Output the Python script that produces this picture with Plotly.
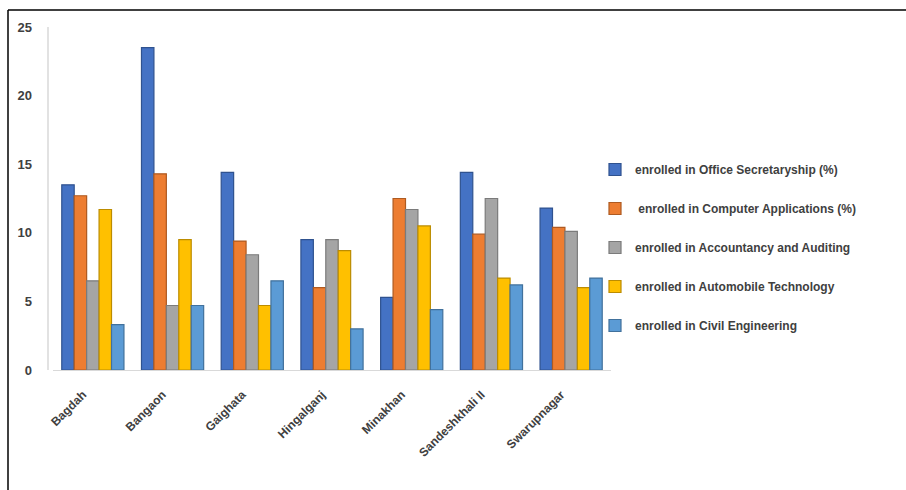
import plotly.graph_objects as go

blocks = ["Bagdah", "Bangaon", "Gaighata", "Hingalganj", "Minakhan", "Sandeshkhali II", "Swarupnagar"]

office_secretaryship = [13.5, 23.5, 14.4, 9.5, 5.3, 14.4, 11.8]
computer_applications = [12.7, 14.3, 9.4, 6.0, 12.5, 9.9, 10.4]
accountancy_auditing = [6.5, 4.7, 8.4, 9.5, 11.7, 12.5, 10.1]
automobile_technology = [11.7, 9.5, 4.7, 8.7, 10.5, 6.7, 6.0]
civil_engineering = [3.3, 4.7, 6.5, 3.0, 4.4, 6.2, 6.7]

series_names = [
    "enrolled in Office Secretaryship (%)",
    " enrolled in Computer Applications (%)",
    "enrolled in Accountancy and Auditing",
    "enrolled in Automobile Technology",
    "enrolled in Civil Engineering",
]
series_values = [office_secretaryship, computer_applications, accountancy_auditing,
                 automobile_technology, civil_engineering]
fill_colors = ["#4472C4", "#ED7D31", "#A5A5A5", "#FFC000", "#5B9BD5"]
edge_colors = ["#2F528F", "#AE5A21", "#7B7B7B", "#BC8C00", "#41719C"]

fig = go.Figure()
for i, (name, vals) in enumerate(zip(series_names, series_values)):
    fig.add_trace(go.Bar(
        x=blocks, y=vals, name=name,
        legendgroup=f"g{i}",
        marker=dict(color=fill_colors[i], line=dict(color=edge_colors[i], width=1.2)),
    ))

# plot-area geometry in pixels (used for items placed in paper coords)
W, H = 906, 490
ml, mr, mt, mb = 53, 295, 27, 120
pw, ph = W - ml - mr, H - mt - mb

def px_x(x):
    return (x - ml) / pw

def px_y(y):
    return (H - mb - y) / ph

fig.update_layout(
    width=W, height=H,
    margin=dict(l=ml, r=mr, t=mt, b=mb),
    plot_bgcolor="white", paper_bgcolor="white",
    barmode="group", bargap=0.22, bargroupgap=0.0,
    font=dict(family="Liberation Sans, Arial, sans-serif", color="#404040"),
    legend=dict(
        x=px_x(595), y=px_y(155), xanchor="left", yanchor="top",
        font=dict(size=12, color="#404040", weight="bold"),
        tracegroupgap=20, itemwidth=30, bgcolor="rgba(0,0,0,0)",
    ),
    xaxis=dict(
        tickangle=-45, showline=True, linecolor="#D9D9D9", linewidth=1,
        tickfont=dict(size=12, color="#404040", weight="bold"),
        showgrid=False, ticks="", ticklabelstandoff=12, ticklabelshift=-10,
    ),
    yaxis=dict(
        range=[0, 25], tickvals=[0, 5, 10, 15, 20, 25],
        showline=False, showgrid=False, zeroline=False, ticks="",
        ticklabelstandoff=20,
        tickfont=dict(size=13, color="#404040", weight="bold"),
    ),
    shapes=[
        # value axis line
        dict(type="line", xref="paper", yref="paper",
             x0=px_x(48), x1=px_x(48), y0=0, y1=1,
             line=dict(color="#D9D9D9", width=1.5)),
        # frame edges
        dict(type="line", xref="paper", yref="paper",
             x0=px_x(8), x1=px_x(W + 2), y0=px_y(10), y1=px_y(10),
             line=dict(color="black", width=1.5)),
        dict(type="line", xref="paper", yref="paper",
             x0=px_x(8), x1=px_x(8), y0=px_y(10), y1=px_y(H + 2),
             line=dict(color="black", width=1.5)),
    ],
)

fig.write_html("out.html")
